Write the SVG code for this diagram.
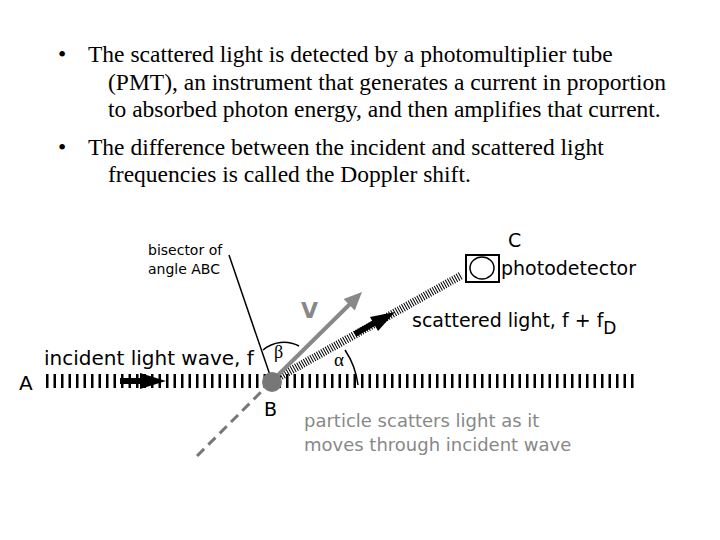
<svg xmlns="http://www.w3.org/2000/svg" width="720" height="540" viewBox="0 0 720 540">
<style>
.t{font-family:"Liberation Serif",serif;font-size:23.5px;fill:#000}
.s{font-family:"DejaVu Sans","Liberation Sans",sans-serif;fill:#000}
.g{fill:#888}
</style>
<rect width="720" height="540" fill="#fff"/>
<g id="text">
<text class="t" x="58" y="62">•</text>
<text class="t" x="88" y="62">The scattered light is detected by a photomultiplier tube</text>
<text class="t" x="108" y="90">(PMT), an instrument that generates a current in proportion</text>
<text class="t" x="108" y="117">to absorbed photon energy, and then amplifies that current.</text>
<text class="t" x="58" y="155">•</text>
<text class="t" x="88" y="155">The difference between the incident and scattered light</text>
<text class="t" x="108" y="182">frequencies is called the Doppler shift.</text>
</g>
<g id="connectors">
<line x1="46" y1="381" x2="634" y2="381" stroke="#000" stroke-width="14" stroke-dasharray="2.5 5"/>
<line x1="120" y1="381" x2="142" y2="381" stroke="#000" stroke-width="6"/>
<polygon points="140,373 166,381 140,389" fill="#000"/>
<line x1="272" y1="381" x2="193" y2="460" stroke="#777" stroke-width="3" stroke-dasharray="10 6"/>
<line x1="229" y1="255" x2="271" y2="378" stroke="#000" stroke-width="1.5"/>
<line x1="272" y1="381" x2="462" y2="275" stroke="#000" stroke-width="8" stroke-dasharray="1 1.5"/>
<line x1="355" y1="334" x2="376" y2="322" stroke="#000" stroke-width="6"/>
<polygon points="395,312 378,331 370,317" fill="#000"/>
<line x1="272" y1="381" x2="351" y2="303" stroke="#888" stroke-width="4"/>
<polygon points="362,292 354.8,310.4 343.6,299" fill="#888"/>
<path d="M263,350 A32,32 0 0 1 299,346" fill="none" stroke="#000" stroke-width="1.5"/>
<path d="M345,350 A80,80 0 0 1 358,385" fill="none" stroke="#000" stroke-width="1.5"/>
</g>
<g id="B"><circle cx="272" cy="382" r="10" fill="#777"/><text class="s" x="264" y="416" font-size="19">B</text></g>
<g id="A"><text class="s" x="19" y="390" font-size="20">A</text></g>
<g id="C">
<text class="s" x="508" y="247" font-size="19">C</text>
<rect x="466" y="255" width="33" height="27" fill="none" stroke="#000" stroke-width="2"/>
<ellipse cx="482" cy="268" rx="12" ry="11" fill="none" stroke="#000" stroke-width="1.5"/>
<text class="s" x="501" y="275" font-size="19">photodetector</text>
</g>
<g id="labels">
<text class="s" x="44" y="365" font-size="20">incident light wave, f</text>
<text class="s" x="412" y="327" font-size="19">scattered light, f + f<tspan font-size="17" dy="7">D</tspan></text>
<text class="s" x="148" y="255" font-size="14">bisector of</text>
<text class="s" x="148" y="274" font-size="14">angle ABC</text>
<text class="s g" x="301" y="318" font-size="22" font-weight="bold">V</text>
<text x="274" y="358" font-size="18" font-family="Liberation Serif,serif">β</text>
<text x="334" y="366" font-size="19" font-family="Liberation Serif,serif">α</text>
<text class="s g" x="304" y="427" font-size="18">particle scatters light as it</text>
<text class="s g" x="304" y="451" font-size="18">moves through incident wave</text>
</g>
</svg>
